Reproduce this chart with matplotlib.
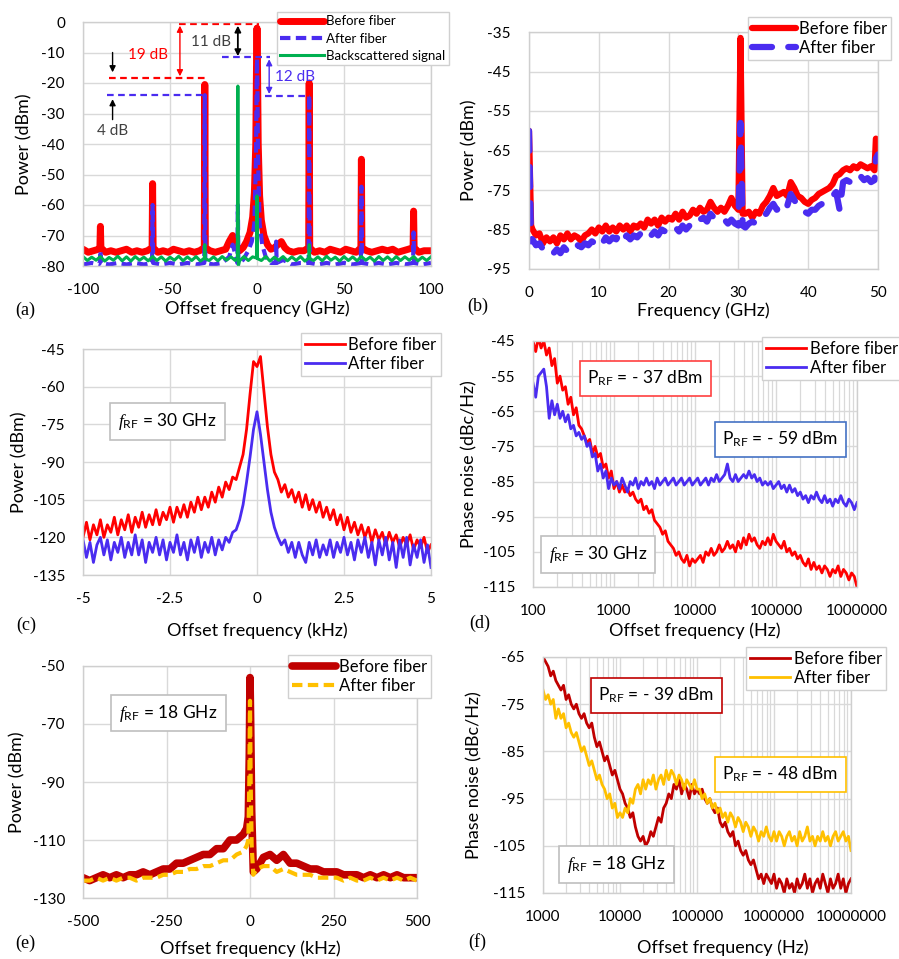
import numpy as np
import matplotlib
matplotlib.use("Agg")
import matplotlib.pyplot as plt
from matplotlib.ticker import NullFormatter, LogLocator

plt.rcParams['font.family'] = ['Lato', 'DejaVu Sans']
plt.rcParams['axes.unicode_minus'] = False
plt.rcParams['mathtext.fontset'] = 'custom'
plt.rcParams['mathtext.rm'] = 'Lato'
plt.rcParams['mathtext.it'] = 'Liberation Serif:italic'

RED = '#ff0000'
BLUE = '#4a2cf0'
GREEN = '#00b050'
DRED = '#c00000'
YEL = '#ffc000'
GRID = '#d9d9d9'

# ---- (a) optical spectrum, offset frequency in GHz, power in dBm
a_before_x = [-100, -97, -94, -91, -90.3, -90, -89.7, -87, -84, -81, -78, -75, -72, -69, -66, -63,
              -60.3, -60, -59.7, -57, -54, -51, -48, -45, -42, -39, -36, -33, -30.3, -30, -29.7,
              -27, -24, -21, -18, -16, -14, -12, -10, -8, -6, -4, -2.5, -1.5, -0.7, -0.3, 0, 0.3,
              0.7, 1.5, 2.5, 4, 6, 8, 10, 12, 14, 16, 18, 21, 24, 27, 29.7, 30, 30.3, 33, 36, 39,
              42, 45, 48, 51, 54, 57, 59.7, 60, 60.3, 63, 66, 69, 72, 75, 78, 81, 84, 87, 89.7,
              90, 90.3, 93, 96, 100]
a_before_y = [-74.5, -75.5, -75, -74.5, -74, -67, -74, -75.5, -75, -75.5, -75, -74.5, -75.5, -75,
              -75.5, -75, -74, -53, -74, -75.5, -75, -75.5, -74.5, -75, -75.5, -75, -75.5, -75,
              -74, -20.5, -74, -75, -75.5, -75, -74.5, -72, -70, -73, -75, -74, -72, -69, -64,
              -56, -40, -15, -2, -15, -40, -57, -65, -70, -73, -74.5, -74, -73, -72, -74, -75,
              -75.5, -75, -75, -74, -20, -74, -75.5, -75, -75.5, -74.5, -75, -75.5, -74.5, -75,
              -75.5, -74, -45, -74, -75, -75.5, -75, -74.5, -75, -74.5, -75.5, -75, -74.5, -74,
              -62, -74, -75.5, -75, -75]
a_after_x = [-100, -95, -91, -90.3, -90, -89.7, -85, -80, -75, -70, -65, -60.3, -60, -59.7, -55,
             -50, -45, -40, -35, -30.3, -30, -29.7, -25, -20, -16, -14, -12, -11.3, -11, -10.7,
             -8, -5, -3, -1.5, -0.6, -0.2, 0, 0.2, 0.6, 1.5, 3, 5, 8, 10.7, 11, 11.3, 15, 20, 25,
             29.7, 30, 30.3, 35, 40, 45, 50, 55, 59.7, 60, 60.3, 65, 70, 75, 80, 85, 89.7, 90,
             90.3, 95, 100]
a_after_y = [-79.5, -79, -79.5, -79, -75, -79, -79.5, -79, -79.5, -79, -79.5, -79, -60, -79,
             -79.5, -79, -79.5, -79, -79.5, -79, -24, -79, -79.5, -79, -77, -73, -77, -79, -60,
             -79, -78, -75, -72, -66, -45, -20, -12, -20, -45, -66, -73, -77, -79, -79, -72,
             -79, -78, -79.5, -79, -79, -24, -79, -79.5, -79, -79.5, -79, -79.5, -79, -54, -79,
             -79.5, -79, -79.5, -79, -79.5, -79, -69, -79, -79.5, -79]
a_back_x = [-100, -97.5, -95, -92.5, -90, -87.5, -85, -82.5, -80, -77.5, -75, -72.5, -70, -67.5,
            -65, -62.5, -60, -57.5, -55, -52.5, -50, -47.5, -45, -42.5, -40, -37.5, -35, -32.5,
            -30.3, -30, -29.7, -27.5, -25, -22.5, -20, -17.5, -15, -12.5, -11.3, -11, -10.7, -10,
            -7.5, -5, -2.5, -0.3, 0, 0.3, 2.5, 5, 7.5, 10, 12.5, 15, 17.5, 20, 22.5, 25, 27.5,
            29.7, 30, 30.3, 32.5, 35, 37.5, 40, 42.5, 45, 47.5, 50, 52.5, 55, 57.5, 60, 62.5,
            65, 67.5, 70, 72.5, 75, 77.5, 80, 82.5, 85, 87.5, 90, 92.5, 95, 97.5, 100]
a_back_y = [-76.9, -78.2, -77.1, -78.1, -76.9, -78.4, -77.2, -78.1, -76.8, -78.3, -77.0, -78.4,
            -76.9, -78.1, -77.1, -78.3, -76.9, -78.2, -77.0, -78.4, -77.1, -78.1, -76.8, -78.3,
            -77.0, -78.2, -76.9, -78.4, -77.4, -73, -77.6, -78.2, -77.0, -78.3, -76.9, -78.1,
            -77.0, -78.2, -77.4, -21, -80, -78.3, -76.9, -78.2, -77.0, -77.4, -57, -77.6, -78.2,
            -76.9, -78.4, -77.1, -78.1, -76.9, -78.3, -77.0, -78.2, -76.9, -78.4, -77.4, -73,
            -77.6, -78.2, -77.0, -78.3, -76.8, -78.1, -77.1, -78.4, -76.9, -78.2, -77.0, -78.3,
            -76.9, -78.1, -77.1, -78.4, -76.9, -78.2, -77.0, -78.3, -76.9, -78.2, -77.0, -78.1,
            -76.9, -78.3, -77.1, -78.2, -77.0]

# ---- (b) RF spectrum, frequency in GHz
b_x = [0, 0.3,
       0.5, 1, 1.5, 2, 2.5, 3, 3.5, 4, 4.5, 5, 5.5, 6, 6.5, 7, 7.5, 8, 8.5, 9, 9.5, 10,
       10.5, 11, 11.5, 12, 12.5, 13, 13.5, 14, 14.5, 15, 15.5, 16, 16.5, 17, 17.5, 18, 18.5, 19,
       19.5, 20, 20.5, 21, 21.5, 22, 22.5, 23, 23.5, 24, 24.5, 25, 25.5, 26, 26.5, 27, 27.5, 28,
       28.5, 29, 29.5, 30,
       30.3, 30.6,
       31, 31.5, 32, 32.5, 33, 33.5, 34, 34.5, 35, 35.5, 36, 36.5, 37, 37.5, 38, 38.5, 39, 39.5,
       40, 40.5, 41, 41.5, 42, 42.5, 43, 43.5, 44, 44.5, 45, 45.5, 46, 46.5, 47, 47.5, 48, 48.5,
       49, 49.5,
       49.7, 50]
b_before = [-60, -84,
            -85, -86.5, -86, -88.5, -87, -88, -87, -88.5, -86.5, -87.5,
            -86, -87.5, -86.5, -87, -88, -86.5, -86, -85, -86, -84.5,
            -85.5, -84, -85.5, -84.5, -85.5, -84, -85, -84, -85.5, -84,
            -84.5, -83.5, -84.5, -82.5, -83.5, -82.5, -84, -82, -83, -82,
            -82.5, -81, -82.5, -80.5, -82, -81.5, -80, -81, -79.5, -80.5,
            -80, -78, -79.5, -80.5, -79.5, -80.5, -79, -77, -79, -80,
            -36.5, -81,
            -81, -80.5, -82, -80.5, -81, -79, -78, -76.5, -74.5, -76.5,
            -76, -75.5, -76.5, -73, -74.5, -76.5, -77, -78, -78.5, -77.5,
            -77, -76, -75.5, -75, -74.5, -73.5, -71.5, -71, -70, -69.5,
            -70, -69, -69.5, -68.5, -69, -69.5, -69, -70,
            -62, -64]
b_after = [-60, -88,
           -87.5, -89, -88.5, -90, -89.5, -90.5, -91, -90, -91, -89.5,
           -90.5, -89.5, -90, -89, -89.5, -88.5, -89, -88, -88.5, -87.5,
           -88.5, -87, -88, -87, -87.5, -86, -87.5, -86.5, -87.5, -86.5,
           -87, -86, -86.5, -85.5, -86.5, -85.5, -86.5, -85, -85.5, -85,
           -85.5, -84.5, -85.5, -84, -85, -84, -83, -83.5, -82.5, -82,
           -83, -81, -82, -82.5, -83, -82.5, -83.5, -82.5, -83.5, -84,
           -58, -84,
           -84.5, -83.5, -83, -83.5, -82.5, -81.5, -81, -79.5, -78.5, -80,
           -79.5, -80.5, -79, -76, -77.5, -79, -80, -80.5, -81, -80,
           -80, -79, -78.5, -78, -77.5, -76.5, -75.5, -80, -73, -72.5,
           -73, -72, -72.5, -71.5, -72.5, -72, -73, -72.5,
           -67, -66]

# ---- (c) 30 GHz beat note, offset in kHz (analyzer sweep of 101 points)
c_x = np.linspace(-5, 5, 101)
c_before = [-120, -114, -121, -115, -119, -113, -120, -115, -118, -112,
            -119, -113, -117, -111, -118, -112, -116, -110, -116, -111,
            -115, -109, -115, -110, -113, -108, -114, -108, -112, -107,
            -112, -106, -110, -104, -109, -104, -108, -102, -106, -100,
            -104, -98, -101, -96, -97, -92, -87, -77, -63, -50,
            -52,
            -48, -62, -76, -87, -94, -97, -102, -99, -104, -101,
            -106, -102, -108, -103, -109, -105, -110, -106, -112, -108,
            -113, -109, -115, -111, -117, -112, -118, -114, -119, -115,
            -120, -116, -122, -117, -121, -118, -123, -118, -122, -119,
            -124, -120, -123, -119, -125, -121, -124, -120, -126, -123]
c_after = [-121, -128, -122, -130, -123, -120, -127, -121, -129, -122,
           -126, -120, -128, -122, -127, -119, -127, -121, -130, -122,
           -126, -120, -127, -121, -129, -122, -126, -119, -127, -122,
           -129, -121, -126, -120, -128, -122, -126, -120, -127, -121,
           -125, -120, -122, -118, -117, -113, -107, -98, -88, -77,
           -70,
           -79, -90, -101, -110, -116, -120, -123, -121, -126, -122,
           -128, -122, -127, -130, -122, -127, -121, -128, -123, -127,
           -121, -128, -122, -126, -120, -127, -122, -129, -121, -126,
           -120, -128, -122, -131, -121, -127, -120, -129, -122, -132,
           -121, -128, -120, -131, -123, -128, -121, -130, -123, -132]

# ---- (d) phase noise at 30 GHz, offset in Hz (30 points per decade)
d_x = np.logspace(2, 6, 121)
d_before = [-45, -48, -44, -47, -45, -49, -47, -52, -50, -57, -55, -59, -58, -63, -61, -66,
            -64, -69, -70, -72, -74, -73, -77, -75, -78, -77, -81, -80, -84, -82, -87,
            -85, -88, -86, -88, -87, -89, -88, -90, -91, -90, -93, -92, -94, -93, -96,
            -97, -98, -100, -99, -102, -103, -104, -106, -105, -107, -108, -106, -109, -107, -108,
            -107, -106, -108, -105, -106, -104, -106, -105, -103, -105, -104, -102, -104, -103,
            -105, -102, -104, -101, -103, -100, -102, -101, -103, -104, -102, -103, -101, -103,
            -100, -102,
            -103, -104, -102, -105, -104, -106, -105, -107, -106, -108, -109, -107, -110, -108,
            -110, -109, -111, -109, -110, -112, -110, -111, -109, -112, -110, -111, -113, -111,
            -112, -115]
d_after = [-57, -61, -55, -54, -53, -58, -67, -62, -66, -63, -67, -65, -68, -66, -70, -69,
           -72, -71, -73, -72, -75, -74, -78, -77, -82, -80, -84, -82, -87, -84, -86,
           -85, -87, -84, -86, -88, -85, -86, -84, -87, -85, -86, -84, -86, -85, -87,
           -84, -86, -85, -84, -86, -85, -84, -86, -85, -84, -86, -85, -84, -86, -85,
           -84, -86, -85, -84, -86, -84, -85, -83, -85, -84, -83, -80, -84, -85, -83,
           -85, -84, -83, -84, -82, -84, -83, -85, -84, -86, -85, -86, -85, -87, -86,
           -85, -87, -86, -88, -86, -88, -87, -89, -88, -90, -89, -91, -89, -90, -88,
           -90, -91, -89, -91, -90, -92, -90, -91, -89, -91, -92, -90, -91, -93, -91]

# ---- (e) 18 GHz beat note, offset in kHz
e_x = [-500, -480, -460, -440, -420, -400, -380, -360, -340, -320, -300, -280, -260, -240, -220,
       -200, -180, -160, -140, -120, -100, -80, -60, -40, -20, -10, -5, -2, 0, 2, 5, 10, 20, 40,
       60, 80, 100, 120, 140, 160, 180, 200, 220, 240, 260, 280, 300, 320, 340, 360, 380, 400,
       420, 440, 460, 480, 500]
e_before = [-123, -124, -123, -122, -123, -122, -123, -122, -122, -121, -122, -121, -120, -120,
            -118, -118, -117, -116, -115, -115, -113, -113, -110, -110, -108, -106, -102, -80,
            -54, -70, -100, -121, -120, -116, -115, -117, -115, -118, -118, -119, -120, -120,
            -121, -121, -121, -122, -122, -122, -123, -122, -123, -122, -123, -122, -123, -123,
            -123]
e_after = [-124, -124, -123, -124, -123, -124, -123, -123, -124, -123, -123, -123, -122, -122,
           -121, -121, -120, -120, -119, -119, -118, -117, -117, -115, -114, -112, -110, -90,
           -62, -90, -112, -122, -120, -119, -119, -121, -120, -121, -122, -122, -122, -123,
           -123, -123, -123, -124, -123, -124, -124, -123, -124, -123, -124, -123, -124, -123,
           -124]

# ---- (f) phase noise at 18 GHz, offset in Hz (30 points per decade)
f_x = np.logspace(3, 7, 121)
f_before = [-65, -66, -67, -69, -68, -70, -71, -72, -71, -74, -73, -75, -76, -75, -77, -78,
            -77, -79, -80, -79, -82, -84, -83, -85, -87, -86, -88, -90, -89, -91, -93,
            -94, -96, -97, -99, -98, -101, -103, -104, -103, -105, -104, -102, -103, -101, -99,
            -100, -97, -96, -94, -95, -92, -93, -91, -94, -92, -93, -95, -92, -94, -93,
            -94, -93, -95, -96, -95, -97, -98, -97, -100, -101, -100, -102, -103, -102, -105,
            -104, -106, -107, -106, -108, -109, -108, -110, -112, -111, -113, -111, -112, -113, -111,
            -114, -112, -113, -115, -112, -114, -113, -115, -112, -114, -113, -111, -114, -112,
            -115, -113, -112, -114, -111, -113, -115, -112, -114, -113, -111, -114, -112, -115,
            -113, -112]
f_after = [-72, -74, -73, -75, -74, -78, -76, -78, -77, -80, -79, -81, -82, -81, -83, -85,
           -84, -86, -88, -87, -89, -91, -90, -92, -93, -95, -94, -97, -96, -99, -98,
           -99, -97, -98, -95, -96, -93, -92, -94, -91, -93, -91, -92, -90, -93, -91,
           -90, -92, -89, -91, -89, -90, -92, -90, -91, -93, -91, -92, -93, -91, -93,
           -93, -95, -94, -96, -95, -97, -96, -98, -97, -99, -98, -100, -98, -99, -101,
           -99, -100, -102, -100, -101, -103, -101, -102, -104, -102, -103, -101, -103, -104, -102,
           -104, -102, -103, -105, -103, -102, -104, -103, -105, -102, -104, -103, -101, -104,
           -103, -105, -103, -104, -102, -104, -103, -105, -103, -102, -104, -103, -102, -104,
           -103, -106]

W, H = 899, 959
fig = plt.figure(figsize=(W / 100, H / 100), dpi=100)


def px_axes(l, t, r, b):
    return fig.add_axes([l / W, 1 - b / H, (r - l) / W, (b - t) / H])


def style(ax, xlabel, ylabel, xl, yl, logx=False):
    for s in ax.spines.values():
        s.set_color('#cfcfcf')
        s.set_linewidth(1)
    ax.set_axisbelow(True)
    ax.grid(True, which='major', color=GRID, lw=1)
    if logx:
        ax.set_xscale('log')
        ax.xaxis.set_minor_locator(LogLocator(base=10, subs=np.arange(2, 10)))
        ax.xaxis.set_minor_formatter(NullFormatter())
        ax.grid(True, which='minor', axis='x', color=GRID, lw=0.9)
    ax.tick_params(which='both', length=0, labelsize=11, colors='#000000')
    ax.tick_params(axis='x', pad=12)
    ax.tick_params(axis='y', pad=13)
    ax.set_xlabel(xlabel, fontsize=13)
    ax.set_ylabel(ylabel, fontsize=13)
    ax.xaxis.set_label_coords(*xl)
    ax.yaxis.set_label_coords(*yl)


def legend(ax, x, y, fs=12, hl=2.6, ls=0.15):
    ax.legend(loc='upper left', bbox_to_anchor=(x / W, 1 - y / H), bbox_transform=fig.transFigure,
              fontsize=fs, frameon=True, fancybox=False, edgecolor='#d0d0d0', framealpha=1,
              borderpad=0.25, handletextpad=0.2, labelspacing=ls, handlelength=hl,
              borderaxespad=0)


def box(x, y, s, ec):
    fig.text(x / W, 1 - y / H, s, ha='center', va='center', fontsize=12.5, zorder=10,
             bbox=dict(boxstyle='square,pad=0.45', fc='white', ec=ec, lw=1.2))


def letter(x, y, s):
    fig.text(x / W, 1 - y / H, s, ha='left', va='center', fontsize=13, family='Liberation Serif')


# (a)
ax = px_axes(83, 22, 431, 266)
ax.plot(a_before_x, a_before_y, color=RED, lw=5, solid_capstyle='round', solid_joinstyle='round',
        label='Before fiber')
ax.plot(a_after_x, a_after_y, color=BLUE, lw=3, dashes=(2.5, 1.3), label='After fiber')
ax.plot(a_back_x, a_back_y, color=GREEN, lw=2.2, label='Backscattered signal')
ax.set_xlim(-100, 100)
ax.set_ylim(-80, 0)
ax.set_xticks([-100, -50, 0, 50, 100])
ax.set_yticks(np.arange(-80, 1, 10))
style(ax, 'Offset frequency (GHz)', 'Power (dBm)', (0.5, -0.143), (-0.144, 0.5))
# level guides and arrows
ax.plot([-45, 1], [-0.6, -0.6], color=RED, lw=1.6, dashes=(3, 2))
ax.plot([-85, -30], [-18.3, -18.3], color=RED, lw=1.6, dashes=(3, 2))
ax.plot([-86, -30], [-24, -24], color=BLUE, lw=1.6, dashes=(3, 2))
ax.plot([-20, 7.5], [-11.6, -11.6], color=BLUE, lw=1.6, dashes=(3, 2))
ax.plot([4.5, 30.5], [-24.2, -24.2], color=BLUE, lw=1.6, dashes=(3, 2))
arr = dict(shrinkA=0, shrinkB=0, mutation_scale=9)
ax.annotate('', xy=(-44.3, -17.8), xytext=(-44.3, -1.2),
            arrowprops=dict(arrowstyle='<|-|>', color=RED, lw=1, **arr))
ax.annotate('', xy=(-11, -11.2), xytext=(-11, -1.2),
            arrowprops=dict(arrowstyle='<|-|>', color='black', lw=1.3, **arr))
ax.annotate('', xy=(7, -23.6), xytext=(7, -12.2),
            arrowprops=dict(arrowstyle='<|-|>', color=BLUE, lw=1, **arr))
ax.annotate('', xy=(-83, -16.5), xytext=(-83, -10),
            arrowprops=dict(arrowstyle='-|>', color='black', lw=1, **arr))
ax.annotate('', xy=(-83, -25.3), xytext=(-83, -32),
            arrowprops=dict(arrowstyle='-|>', color='black', lw=1, **arr))
ax.text(-62.5, -10.8, '19 dB', color=RED, fontsize=11, ha='center', va='center')
ax.text(-26.5, -6.5, '11 dB', color='#404040', fontsize=11, ha='center', va='center')
ax.text(22, -17.9, '12 dB', color=BLUE, fontsize=11, ha='center', va='center')
ax.text(-83, -35.7, '4 dB', color='#404040', fontsize=11, ha='center', va='center')
legend(ax, 277, 12, fs=9.5, hl=3.3, ls=0.4)
letter(15, 310, '(a)')

# (b)
ax = px_axes(529, 32, 878, 269)
ax.plot(b_x, b_before, color=RED, lw=4.5, solid_capstyle='round', solid_joinstyle='round',
        label='Before fiber')
ax.plot(b_x, b_after, color=BLUE, lw=4.5, dashes=(3.2, 2.6), dash_capstyle='round',
        label='After fiber')
ax.set_xlim(0, 50)
ax.set_ylim(-95, -35)
ax.set_xticks(np.arange(0, 51, 10))
ax.set_yticks(np.arange(-95, -34, 10))
style(ax, 'Frequency (GHz)', 'Power (dBm)', (0.5, -0.143), (-0.149, 0.5))
legend(ax, 748, 17, fs=12, hl=2.6)
letter(467, 306, '(b)')

# (c)
ax = px_axes(83, 349, 431, 575)
ax.plot(c_x, c_before, color=RED, lw=2, label='Before fiber')
ax.plot(c_x, c_after, color=BLUE, lw=2, label='After fiber')
ax.set_xlim(-5, 5)
ax.set_ylim(-135, -45)
ax.set_xticks([-5, -2.5, 0, 2.5, 5])
ax.set_xticklabels(['-5', '-2.5', '0', '2.5', '5'])
ax.set_yticks(np.arange(-135, -44, 15))
style(ax, 'Offset frequency (kHz)', 'Power (dBm)', (0.5, -0.208), (-0.161, 0.5))
legend(ax, 301, 333, fs=12, hl=2.4)
box(167.5, 421.5, r'$\mathit{f}_{\mathrm{RF}}$ = 30 GHz', '#bfbfbf')
letter(16, 625, '(c)')

# (d)
ax = px_axes(533, 341, 857, 587)
ax.plot(d_x, d_before, color=RED, lw=2, label='Before fiber')
ax.plot(d_x, d_after, color=BLUE, lw=2, label='After fiber')
ax.set_xlim(100, 1e6)
ax.set_ylim(-115, -45)
style(ax, 'Offset frequency (Hz)', 'Phase noise (dBc/Hz)', (0.5, -0.146), (-0.173, 0.5), logx=True)
ax.set_xticks([1e2, 1e3, 1e4, 1e5, 1e6])
ax.set_xticklabels(['100', '1000', '10000', '100000', '1000000'])
ax.set_yticks(np.arange(-115, -44, 10))
legend(ax, 762, 337, fs=12, hl=2.4)
box(645.5, 378.5, r'P$_{\mathrm{RF}}$ = - 37 dBm', '#ff4040')
box(780.5, 439.5, r'P$_{\mathrm{RF}}$ = - 59 dBm', '#4472c4')
box(598, 554.5, r'$\mathit{f}_{\mathrm{RF}}$ = 30 GHz', '#bfbfbf')
letter(469, 623, '(d)')

# (e)
ax = px_axes(83, 666, 417, 898)
ax.plot(e_x, e_before, color=DRED, lw=5.5, solid_capstyle='round', solid_joinstyle='round',
        label='Before fiber')
ax.plot(e_x, e_after, color=YEL, lw=3, dashes=(2.5, 1.3), label='After fiber')
ax.set_xlim(-500, 500)
ax.set_ylim(-130, -50)
ax.set_xticks([-500, -250, 0, 250, 500])
ax.set_yticks(np.arange(-130, -49, 20))
style(ax, 'Offset frequency (kHz)', 'Power (dBm)', (0.5, -0.181), (-0.171, 0.5))
legend(ax, 288, 655, fs=12, hl=2.6)
box(168.5, 713, r'$\mathit{f}_{\mathrm{RF}}$ = 18 GHz', '#bfbfbf')
letter(15, 943, '(e)')

# (f)
ax = px_axes(543, 657, 851, 893)
ax.plot(f_x, f_before, color=DRED, lw=2, label='Before fiber')
ax.plot(f_x, f_after, color=YEL, lw=2, label='After fiber')
ax.set_xlim(1e3, 1e7)
ax.set_ylim(-115, -65)
style(ax, 'Offset frequency (Hz)', 'Phase noise (dBc/Hz)', (0.584, -0.195), (-0.198, 0.5), logx=True)
ax.set_xticks([1e3, 1e4, 1e5, 1e6, 1e7])
ax.set_xticklabels(['1000', '10000', '100000', '1000000', '10000000'])
ax.set_yticks(np.arange(-115, -64, 10))
legend(ax, 746, 647, fs=12, hl=2.4)
box(656.5, 695.5, r'P$_{\mathrm{RF}}$ = - 39 dBm', '#c00000')
box(780.5, 774.5, r'P$_{\mathrm{RF}}$ = - 48 dBm', '#ffc000')
box(616.5, 864.5, r'$\mathit{f}_{\mathrm{RF}}$ = 18 GHz', '#bfbfbf')
letter(468, 942, '(f)')

fig.savefig('out.png', dpi=100)
